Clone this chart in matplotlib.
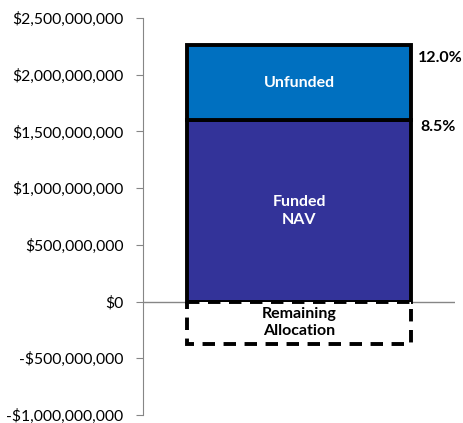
import matplotlib.pyplot as plt
from matplotlib.ticker import FuncFormatter

plt.rcParams['font.family'] = ['Lato', 'DejaVu Sans']

# allocation values in dollars
funded_nav = 1.60e9
unfunded = 0.66e9
remaining = -0.37e9
pct_labels = ['8.5%', '12.0%']

yticks = [-1.0e9, -0.5e9, 0, 0.5e9, 1.0e9, 1.5e9, 2.0e9, 2.5e9]

fig = plt.figure(figsize=(4.64, 4.23), dpi=100)
ax = fig.add_axes([143 / 464, 8 / 423, 312 / 464, 397 / 423])

w = 0.721
ax.bar(0, funded_nav, width=w, color='#333399', edgecolor='black', linewidth=2.8, zorder=3)
ax.bar(0, unfunded, bottom=funded_nav, width=w, color='#0070C0', edgecolor='black', linewidth=2.8, zorder=3)
ax.bar(0, remaining, width=w, color='white', edgecolor='black', linewidth=2.8,
       linestyle=(0, (3.2, 2.2)), zorder=3)

fs = 11.5
ax.text(0, funded_nav + unfunded / 2, 'Unfunded', color='white', fontsize=fs,
        fontweight='bold', ha='center', va='center', zorder=4)
ax.text(0, funded_nav / 2, 'Funded\nNAV', color='white', fontsize=fs,
        fontweight='bold', ha='center', va='center', linespacing=1.35, zorder=4)
ax.text(0, remaining / 2, 'Remaining\nAllocation', color='black', fontsize=fs,
        fontweight='bold', ha='center', va='center', linespacing=1.3, zorder=4)

ax.text(w / 2 + 0.03, funded_nav - 0.06e9, pct_labels[0], fontsize=fs,
        fontweight='bold', ha='left', va='center')
ax.text(w / 2 + 0.022, funded_nav + unfunded - 0.11e9, pct_labels[1], fontsize=fs,
        fontweight='bold', ha='left', va='center')

ax.set_xlim(-0.5, 0.5)
ax.set_ylim(-1.0e9, 2.5e9)
ax.set_yticks(yticks)


def money(v, pos):
    if v < 0:
        return '-${:,.0f}'.format(-v)
    return '${:,.0f}'.format(v)


ax.yaxis.set_major_formatter(FuncFormatter(money))
ax.tick_params(axis='y', direction='out', length=5, color='#868686', labelsize=11.3, pad=9)
ax.set_xticks([])
for s in ['top', 'right', 'bottom']:
    ax.spines[s].set_visible(False)
ax.spines['left'].set_color('#868686')
ax.axhline(0, color='#868686', linewidth=1, zorder=2)

fig.savefig('out.png', dpi=100)
